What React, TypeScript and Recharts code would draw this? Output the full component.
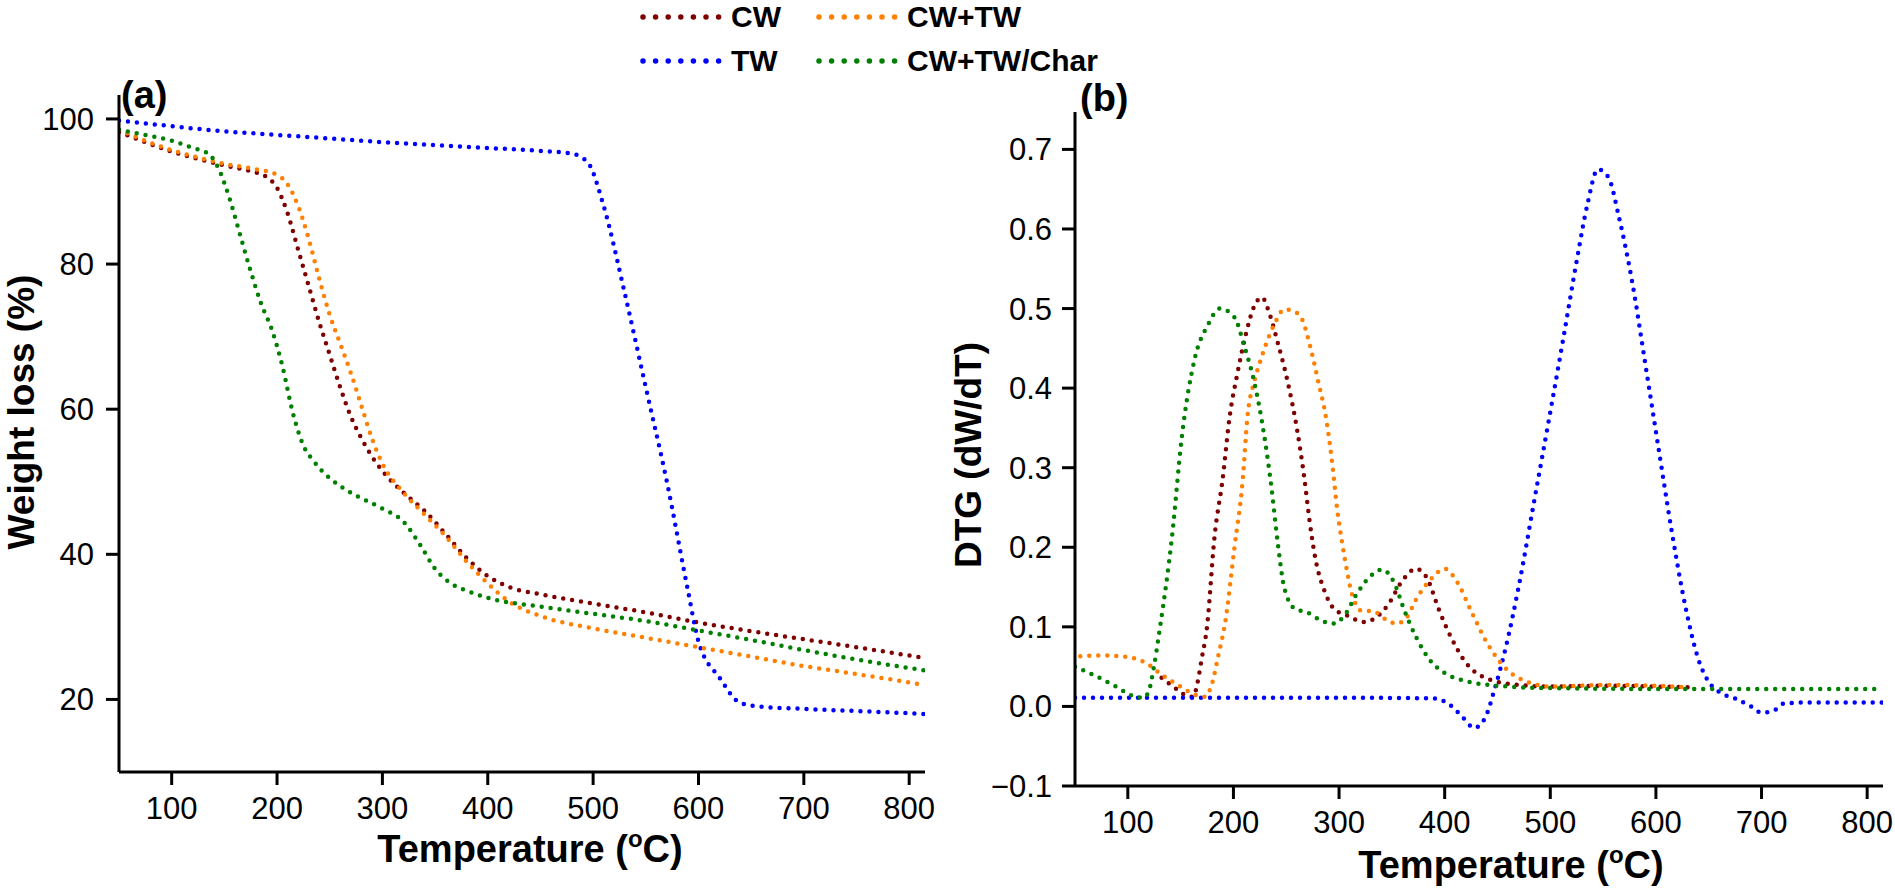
import { LineChart, Line, XAxis, YAxis, Label } from 'recharts';

// panel (a): TGA weight loss (%)
const cwTgaT = [50, 75, 100, 125, 150, 175, 190, 200, 210, 220, 230, 240, 250, 260, 270, 280, 290, 300, 320, 340, 360, 380, 400, 420, 450, 500, 550, 600, 650, 700, 750, 815];
const cwTgaW = [98.2, 96.8, 95.5, 94.5, 93.6, 92.8, 92, 90.5, 87, 82, 77, 72, 67.5, 63, 59, 56, 53.5, 51.5, 48.5, 46, 42.8, 39.5, 37, 35.5, 34.5, 33.2, 32, 30.6, 29.4, 28.3, 27.2, 25.7];
const twTgaT = [50, 100, 150, 200, 250, 300, 350, 400, 450, 480, 495, 510, 530, 550, 570, 590, 600, 620, 640, 660, 700, 750, 815];
const twTgaW = [99.8, 99, 98.3, 97.8, 97.3, 96.8, 96.4, 96, 95.6, 95.2, 94, 88, 76, 63, 50, 35, 28, 23, 19.5, 19, 18.7, 18.4, 18];
const mixTgaT = [50, 75, 100, 125, 150, 175, 200, 210, 220, 230, 240, 250, 260, 270, 280, 290, 300, 320, 340, 360, 380, 400, 420, 450, 500, 550, 600, 650, 700, 750, 815];
const mixTgaW = [98.5, 97, 95.7, 94.7, 93.8, 93.2, 92.3, 91, 88, 83.5, 78, 73, 69, 65, 60.5, 56, 52.5, 48.5, 45.5, 42.5, 39, 36, 33.5, 31.5, 29.8, 28.5, 27.2, 25.9, 24.6, 23.5, 22];
const charTgaT = [50, 75, 100, 120, 135, 145, 155, 165, 175, 185, 195, 205, 215, 225, 235, 250, 270, 300, 320, 335, 350, 365, 380, 400, 450, 500, 550, 600, 650, 700, 750, 815];
const charTgaW = [98.5, 97.8, 97, 96, 95.2, 93, 89, 84, 79, 74.5, 71, 66, 59.5, 55, 52.8, 50.5, 48.5, 46.3, 44.5, 41.5, 38, 36, 35, 34, 32.8, 31.8, 30.8, 29.5, 28.2, 26.8, 25.5, 24];

// panel (b): DTG (dW/dT)
const cwDtgT = [132, 140, 148, 156, 162, 166, 170, 175, 182, 190, 196, 204, 212, 220, 227, 234, 242, 251, 260, 267, 272, 278, 286, 295, 308, 324, 333, 346, 360, 373, 383, 395, 406, 420, 440, 470, 500, 550, 600, 630];
const cwDtgV = [0.036, 0.028, 0.02, 0.013, 0.012, 0.03, 0.06, 0.1, 0.212, 0.288, 0.36, 0.42, 0.469, 0.504, 0.514, 0.494, 0.457, 0.41, 0.35, 0.288, 0.234, 0.183, 0.146, 0.123, 0.114, 0.106, 0.11, 0.127, 0.158, 0.173, 0.162, 0.12, 0.087, 0.055, 0.035, 0.027, 0.025, 0.026, 0.025, 0.024];
const twDtgT = [50, 100, 200, 300, 390, 405, 418, 428, 438, 448, 458, 470, 485, 500, 512, 525, 535, 545, 555, 565, 578, 590, 603, 615, 628, 640, 651, 660, 675, 690, 700, 712, 722, 750, 815];
const twDtgV = [0.011, 0.011, 0.011, 0.011, 0.01, 0.002, -0.015, -0.027, -0.015, 0.025, 0.075, 0.15, 0.26, 0.37, 0.46, 0.56, 0.63, 0.675, 0.665, 0.615, 0.53, 0.43, 0.32, 0.22, 0.125, 0.06, 0.029, 0.018, 0.01, 0.0, -0.008, -0.005, 0.004, 0.005, 0.005];
const mixDtgT = [55, 75, 100, 118, 133, 146, 156, 165, 173, 180, 186, 192, 201, 209, 213, 220, 225, 231, 239, 248, 256, 264, 272, 280, 288, 294, 298, 303, 308, 312, 322, 331, 346, 354, 363, 374, 387, 400, 412, 425, 440, 460, 480, 500, 550, 600, 630];
const mixDtgV = [0.063, 0.064, 0.062, 0.054, 0.039, 0.028, 0.02, 0.014, 0.012, 0.03, 0.066, 0.104, 0.2, 0.288, 0.36, 0.41, 0.432, 0.456, 0.481, 0.499, 0.497, 0.489, 0.456, 0.41, 0.36, 0.3, 0.25, 0.205, 0.167, 0.142, 0.12, 0.12, 0.108, 0.104, 0.11, 0.137, 0.16, 0.173, 0.156, 0.12, 0.08, 0.045, 0.03, 0.025, 0.027, 0.026, 0.024];
const charDtgT = [50, 70, 90, 105, 115, 120, 125, 130, 142, 151, 163, 176, 187, 201, 210, 220, 228, 236, 242, 248, 258, 270, 283, 294, 305, 317, 330, 341, 352, 362, 373, 385, 400, 420, 450, 500, 600, 700, 815];
const charDtgV = [0.05, 0.038, 0.024, 0.013, 0.011, 0.02, 0.052, 0.095, 0.215, 0.337, 0.435, 0.48, 0.5, 0.489, 0.454, 0.406, 0.35, 0.275, 0.205, 0.15, 0.123, 0.118, 0.108, 0.104, 0.114, 0.142, 0.164, 0.172, 0.156, 0.12, 0.087, 0.06, 0.042, 0.032, 0.026, 0.023, 0.022, 0.022, 0.022];

const tempTicks = [100, 200, 300, 400, 500, 600, 700, 800];
const weightTicks = [20, 40, 60, 80, 100];
const dtgTicks = [-0.1, 0, 0.1, 0.2, 0.3, 0.4, 0.5, 0.6, 0.7];

const FONT = '"Liberation Sans", Arial, sans-serif';
const COLORS = { cw: '#7f0000', tw: '#0000ff', mix: '#ff7f00', char: '#008000' };

const zip = (t: number[], v: number[]) => t.map((x, i) => ({ t: x, v: v[i] }));

const axisStyle = { stroke: '#000', strokeWidth: 3 };
const tickStyle = { fill: '#000', fontSize: 31, fontFamily: FONT };

const dotted = {
  strokeWidth: 4.5,
  strokeDasharray: '0 9',
  strokeLinecap: 'round' as const,
  dot: false,
  isAnimationActive: false,
  type: 'monotone' as const,
  dataKey: 'v',
};

const XTitle = ({ x, y }: { x: number; y: number }) => (
  <text x={x} y={y} textAnchor="middle" fontFamily={FONT} fontWeight="bold" fontSize={38} fill="#000">
    Temperature (<tspan dy={-15} fontSize={24}>o</tspan><tspan dy={15}>C)</tspan>
  </text>
);

const YTitle = ({ x, y, text }: { x: number; y: number; text: string }) => (
  <text x={x} y={y} transform={`rotate(-90 ${x} ${y})`} textAnchor="middle" fontFamily={FONT} fontWeight="bold" fontSize={37} fill="#000">
    {text}
  </text>
);

const PanelTag = ({ x, y, text }: { x: number; y: number; text: string }) => (
  <text x={x} y={y} fontFamily={FONT} fontWeight="bold" fontSize={38} fill="#000">{text}</text>
);

const legendItems = [
  { name: 'CW', color: COLORS.cw, x: 640, y: 17 },
  { name: 'CW+TW', color: COLORS.mix, x: 816, y: 17 },
  { name: 'TW', color: COLORS.tw, x: 640, y: 61 },
  { name: 'CW+TW/Char', color: COLORS.char, x: 816, y: 61 },
];

export default function App() {
  return (
    <div style={{ position: 'absolute', left: 0, top: 0, width: 1895, height: 896, background: '#fff', fontFamily: FONT }}>
      <div style={{ position: 'absolute', left: 0, top: 0 }}>
        <LineChart width={940} height={896} margin={{ top: 95, right: 15, left: 0, bottom: 0 }}>
          <XAxis type="number" dataKey="t" domain={[50, 815]} ticks={tempTicks} allowDataOverflow height={124}
            axisLine={axisStyle} tickLine={axisStyle} tickSize={13} tickMargin={12} tick={tickStyle}>
            <Label content={() => <XTitle x={530} y={862} />} />
          </XAxis>
          <YAxis type="number" domain={[10, 103.3]} ticks={weightTicks} allowDataOverflow width={119}
            axisLine={axisStyle} tickLine={axisStyle} tickSize={13} tickMargin={12} tick={tickStyle}>
            <Label content={() => <YTitle x={34} y={412} text="Weight loss (%)" />} />
            <Label content={() => <PanelTag x={121} y={108} text="(a)" />} />
          </YAxis>
          <Line {...dotted} data={zip(cwTgaT, cwTgaW)} stroke={COLORS.cw} />
          <Line {...dotted} data={zip(twTgaT, twTgaW)} stroke={COLORS.tw} />
          <Line {...dotted} data={zip(mixTgaT, mixTgaW)} stroke={COLORS.mix} />
          <Line {...dotted} data={zip(charTgaT, charTgaW)} stroke={COLORS.char} />
        </LineChart>
      </div>
      <div style={{ position: 'absolute', left: 780, top: 0 }}>
        <LineChart width={1115} height={896} margin={{ top: 112, right: 12, left: 0, bottom: 0 }}>
          <XAxis type="number" dataKey="t" domain={[50, 815]} ticks={tempTicks} allowDataOverflow height={110}
            axisLine={axisStyle} tickLine={axisStyle} tickSize={13} tickMargin={12} tick={tickStyle}>
            <Label content={() => <XTitle x={731} y={878} />} />
          </XAxis>
          <YAxis type="number" domain={[-0.1, 0.747]} ticks={dtgTicks} allowDataOverflow width={295}
            axisLine={axisStyle} tickLine={axisStyle} tickSize={13} tickMargin={10} tick={tickStyle}
            tickFormatter={(v: number) => (v < 0 ? '\u2212' + Math.abs(v).toFixed(1) : v.toFixed(1))}>
            <Label content={() => <YTitle x={201} y={455} text="DTG (dW/dT)" />} />
            <Label content={() => <PanelTag x={300} y={111} text="(b)" />} />
          </YAxis>
          <Line {...dotted} data={zip(cwDtgT, cwDtgV)} stroke={COLORS.cw} />
          <Line {...dotted} data={zip(twDtgT, twDtgV)} stroke={COLORS.tw} />
          <Line {...dotted} data={zip(mixDtgT, mixDtgV)} stroke={COLORS.mix} />
          <Line {...dotted} data={zip(charDtgT, charDtgV)} stroke={COLORS.char} />
        </LineChart>
      </div>
      <svg width={1895} height={90} style={{ position: 'absolute', left: 0, top: 0 }}>
        {legendItems.map((it) => (
          <g key={it.name}>
            <line x1={it.x + 3} x2={it.x + 84} y1={it.y} y2={it.y} stroke={it.color} strokeWidth={5.5}
              strokeDasharray="0 12.6" strokeLinecap="round" />
            <text x={it.x + 91} y={it.y + 10} fontFamily={FONT} fontWeight="bold" fontSize={30} fill="#000">{it.name}</text>
          </g>
        ))}
      </svg>
    </div>
  );
}
